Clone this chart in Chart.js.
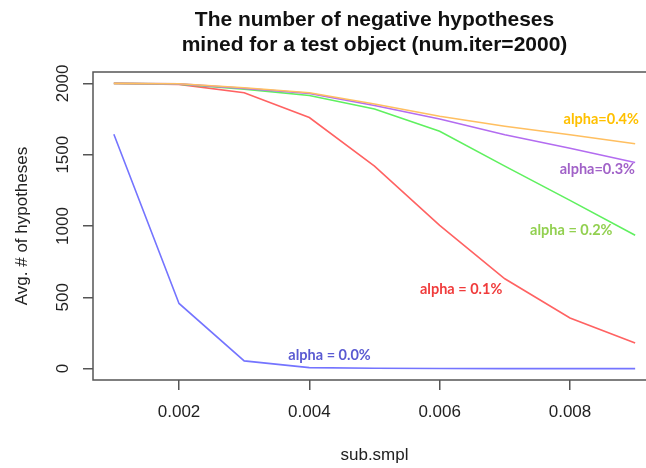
<!DOCTYPE html>
<html>
<head>
<meta charset="utf-8">
<script src="https://cdn.jsdelivr.net/npm/chart.js@4/dist/chart.umd.min.js"></script>
<style>
  html, body { margin: 0; padding: 0; background: #fff; overflow: hidden; }
  #wrap { width: 646px; height: 468px; overflow: hidden; }
</style>
</head>
<body>
<div id="wrap"><canvas id="grafico" width="700" height="468"></canvas></div>
<script>
// sub.smpl values (x axis)
const subSmpl = [0.001, 0.002, 0.003, 0.004, 0.005, 0.006, 0.007, 0.008, 0.009];

// Avg. # of hypotheses per alpha
const alpha00 = [1643, 457, 54, 7, 2, 1, 0, 0, 0];
const alpha01 = [2000, 1993, 1934, 1761, 1420, 1005, 630, 355, 180];
const alpha02 = [2000, 1995, 1960, 1915, 1820, 1665, 1420, 1180, 935];
const alpha03 = [2000, 1997, 1965, 1930, 1845, 1750, 1640, 1545, 1445];
const alpha04 = [2000, 1998, 1970, 1935, 1855, 1770, 1700, 1640, 1577];

const yTicks = [0, 500, 1000, 1500, 2000];
const xTicks = [0.002, 0.004, 0.006, 0.008];

const titulo = ['The number of negative hypotheses', 'mined for a test object (num.iter=2000)'];

// texto ao lado das curvas (coordenadas em unidades dos eixos)
const rotulos = [
    { text: 'alpha=0.4%', color: '#ffc000', x: 0.00848, y: 1749 },
    { text: 'alpha=0.3%', color: '#a162c8', x: 0.00842, y: 1397 },
    { text: 'alpha = 0.2%', color: '#92d050', x: 0.00802, y: 968 },
    { text: 'alpha = 0.1%', color: '#f03c3c', x: 0.00633, y: 553 },
    { text: 'alpha = 0.0%', color: '#5a5ad2', x: 0.00431, y: 96 }
];

function serie(valores) {
    return valores.map((v, i) => ({ x: subSmpl[i], y: v }));
}

const plotR = {
    id: 'plotR',
    afterDraw(chart) {
        const ctx = chart.ctx;
        const a = chart.chartArea;
        const sx = chart.scales.x;
        const sy = chart.scales.y;
        ctx.save();

        // caixa
        ctx.strokeStyle = '#555';
        ctx.lineWidth = 1.5;
        ctx.strokeRect(a.left, a.top, a.right - a.left, a.bottom - a.top);

        // rótulos do eixo y (girados, estilo R)
        ctx.fillStyle = '#222';
        ctx.font = '17px "Liberation Sans", Arial, sans-serif';
        ctx.textAlign = 'center';
        ctx.textBaseline = 'middle';
        yTicks.forEach(v => {
            ctx.save();
            ctx.translate(63, sy.getPixelForValue(v));
            ctx.rotate(-Math.PI / 2);
            ctx.fillText(String(v), 0, 0);
            ctx.restore();
        });

        // títulos dos eixos
        ctx.save();
        ctx.translate(22, (a.top + a.bottom) / 2);
        ctx.rotate(-Math.PI / 2);
        ctx.fillText('Avg. # of hypotheses', 0, 0);
        ctx.restore();
        ctx.fillText('sub.smpl', (a.left + a.right) / 2, 455);

        // título principal
        ctx.fillStyle = '#111';
        ctx.font = 'bold 21px "Liberation Sans", Arial, sans-serif';
        ctx.fillText(titulo[0], (a.left + a.right) / 2, 20);
        ctx.fillText(titulo[1], (a.left + a.right) / 2, 45);

        // textos das curvas
        ctx.font = 'bold 14.5px Lato, "Open Sans", sans-serif';
        rotulos.forEach(r => {
            ctx.fillStyle = r.color;
            ctx.fillText(r.text, sx.getPixelForValue(r.x), sy.getPixelForValue(r.y));
        });

        ctx.restore();
    }
};

const ctx = document.getElementById('grafico').getContext('2d');
const meuGrafico = new Chart(ctx, {
    type: 'line',
    data: {
        datasets: [
            { label: 'alpha=0.4%', data: serie(alpha04), borderColor: '#ffbf60' },
            { label: 'alpha=0.3%', data: serie(alpha03), borderColor: '#b36cf0' },
            { label: 'alpha=0.2%', data: serie(alpha02), borderColor: '#5ff05f' },
            { label: 'alpha=0.1%', data: serie(alpha01), borderColor: '#ff6262' },
            { label: 'alpha=0.0%', data: serie(alpha00), borderColor: '#7474ff' }
        ]
    },
    options: {
        responsive: false,
        animation: false,
        layout: { padding: { top: 72, right: 44, left: 0, bottom: 0 } },
        elements: {
            line: { borderWidth: 1.6, tension: 0, fill: false },
            point: { radius: 0, hoverRadius: 0 }
        },
        plugins: {
            legend: { display: false },
            tooltip: { enabled: false },
            title: { display: false }
        },
        scales: {
            x: {
                type: 'linear',
                position: 'bottom',
                min: 0.00068,
                max: 0.00932,
                afterBuildTicks: s => { s.ticks = xTicks.map(v => ({ value: v })); },
                afterFit: s => { s.height = 88; },
                ticks: {
                    color: '#222',
                    font: { family: '"Liberation Sans", Arial, sans-serif', size: 17 },
                    padding: 12,
                    maxRotation: 0,
                    callback: v => v.toFixed(3)
                },
                grid: { drawOnChartArea: false, drawTicks: true, tickLength: 10, color: '#555', lineWidth: 1.5 },
                border: { display: false }
            },
            y: {
                type: 'linear',
                min: -80,
                max: 2080,
                afterBuildTicks: s => { s.ticks = yTicks.map(v => ({ value: v })); },
                afterFit: s => { s.width = 93; },
                ticks: { display: false },
                grid: { drawOnChartArea: false, drawTicks: true, tickLength: 10, color: '#555', lineWidth: 1.5 },
                border: { display: false }
            }
        }
    },
    plugins: [plotR]
});
</script>
</body>
</html>
